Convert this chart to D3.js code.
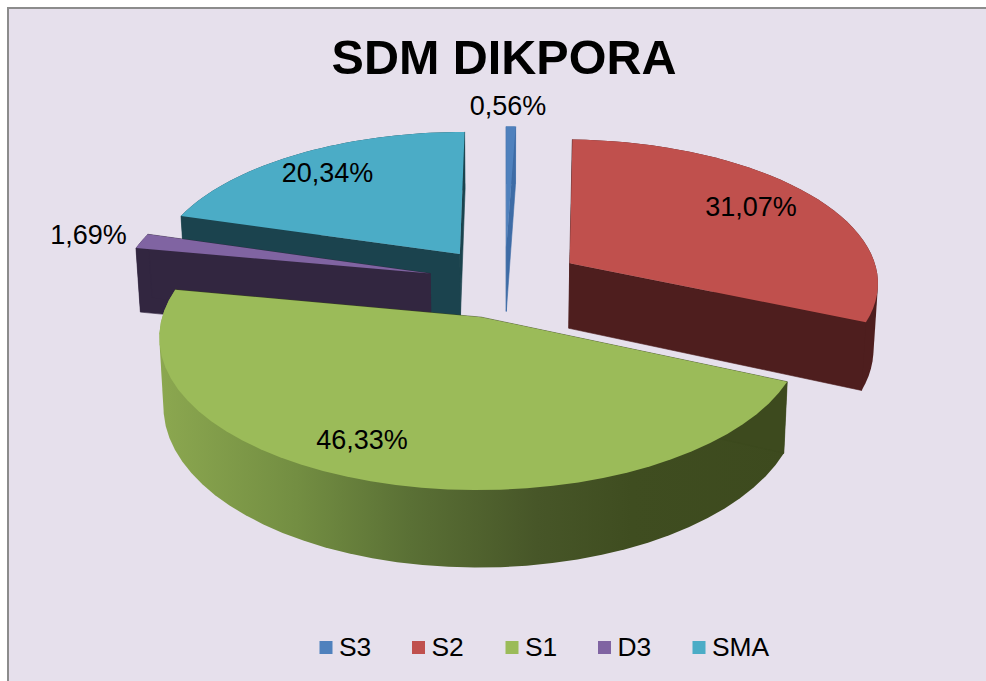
<!DOCTYPE html>
<html>
<head>
<meta charset="utf-8">
<script src="https://cdn.jsdelivr.net/npm/d3@7"></script>
<style>
html, body { margin: 0; padding: 0; background: #fff; }
text { font-family: "Liberation Sans", Arial, sans-serif; }
</style>
</head>
<body>
<div id="chart"></div>
<script>
var categories = ["S3", "S2", "S1", "D3", "SMA"];
var values = [0.56, 31.07, 46.33, 1.69, 20.34];
var labels = ["0,56%", "31,07%", "46,33%", "1,69%", "20,34%"];
var topColors = ["#4f81bd", "#c0504d", "#9bbb59", "#8064a2", "#4bacc6"];
var wallColors = ["#3e6ca6", "#4e1e1e", "#3d4a1e", "#322640", "#1b434e"];

var width = 986, height = 681;
var cx = 505, cy = 282, rx = 310, ry = 143, persp = 0.12, explode = 0.25, depth = 66, taper = 0.012;

var svg = d3.select("#chart").append("svg")
    .attr("width", width)
    .attr("height", height)
    .style("display", "block");

svg.append("rect")
    .attr("x", 8).attr("y", 8)
    .attr("width", width).attr("height", height)
    .attr("fill", "#e6e0ec")
    .attr("stroke", "#8c8c8c")
    .attr("stroke-width", 2);

var defs = svg.append("defs");
var grad = defs.append("linearGradient")
    .attr("id", "rim")
    .attr("gradientUnits", "userSpaceOnUse")
    .attr("x1", 157).attr("x2", 790).attr("y1", 0).attr("y2", 0);
[[0, "#8ca850"], [0.22, "#738e42"], [0.4, "#5a7035"], [0.6, "#475628"], [0.75, "#3f4d20"], [1, "#3d4a1e"]]
    .forEach(function(s) { grad.append("stop").attr("offset", s[0]).attr("stop-color", s[1]); });

var pie = d3.pie().sort(null).value(function(d) { return d; });
var arcs = pie(values);

// flat point on the pie plane, then squashed with some perspective
function project(a, r, mid, z) {
    var X = explode * Math.sin(mid) + r * Math.sin(a);
    var Y = -explode * Math.cos(mid) - r * Math.cos(a);
    var s = 1 / (1 - persp * Y);
    return [cx + X * rx * s * (1 - taper * z), cy + Y * ry * s + z * depth * s];
}

var line = d3.line();

function rimPoints(d, z) {
    var mid = (d.startAngle + d.endAngle) / 2;
    return d3.range(0, 41).map(function(i) {
        var a = d.startAngle + (d.endAngle - d.startAngle) * i / 40;
        return project(a, 1, mid, z);
    });
}

function drawSlice(i) {
    var d = arcs[i];
    var mid = (d.startAngle + d.endAngle) / 2;
    var g = svg.append("g");
    var apexTop = project(0, 0, mid, 0), apexBot = project(0, 0, mid, 1);
    var startTop = project(d.startAngle, 1, mid, 0), startBot = project(d.startAngle, 1, mid, 1);
    var endTop = project(d.endAngle, 1, mid, 0), endBot = project(d.endAngle, 1, mid, 1);
    // outer wall as a hull so the silhouette stays tangent, the top covers the rest
    g.append("path")
        .attr("d", line(d3.polygonHull(rimPoints(d, 0).concat(rimPoints(d, 1)))) + "Z")
        .attr("fill", i == 2 ? "url(#rim)" : wallColors[i]);
    [[apexTop, startTop, startBot, apexBot], [apexTop, endTop, endBot, apexBot]].forEach(function(face) {
        g.append("path")
            .attr("d", line(face) + "Z")
            .attr("fill", wallColors[i])
            .attr("stroke", wallColors[i])
            .attr("stroke-width", 0.6);
    });
    // top
    g.append("path")
        .attr("d", line([apexTop].concat(rimPoints(d, 0))) + "Z")
        .attr("fill", topColors[i]);
}

[4, 3, 0, 1, 2].forEach(drawSlice);

svg.append("text")
    .attr("x", 504).attr("y", 74)
    .attr("text-anchor", "middle")
    .attr("font-size", 48.5).attr("font-weight", "bold")
    .attr("fill", "#000")
    .text("SDM DIKPORA");

var labelPos = [[508, 106], [751, 207], [362, 440], [88.5, 235], [327.5, 173]];
labels.forEach(function(t, i) {
    svg.append("text")
        .attr("x", labelPos[i][0]).attr("y", labelPos[i][1] + 9)
        .attr("text-anchor", "middle")
        .attr("font-size", 27)
        .attr("fill", "#000")
        .text(t);
});

var legendX = [319.5, 412, 505.5, 598, 692.5];
categories.forEach(function(c, i) {
    svg.append("rect")
        .attr("x", legendX[i]).attr("y", 641)
        .attr("width", 13).attr("height", 13)
        .attr("fill", topColors[i]);
    svg.append("text")
        .attr("x", legendX[i] + 19.5).attr("y", 656)
        .attr("font-size", 26.4)
        .attr("fill", "#000")
        .text(c);
});
</script>
</body>
</html>
